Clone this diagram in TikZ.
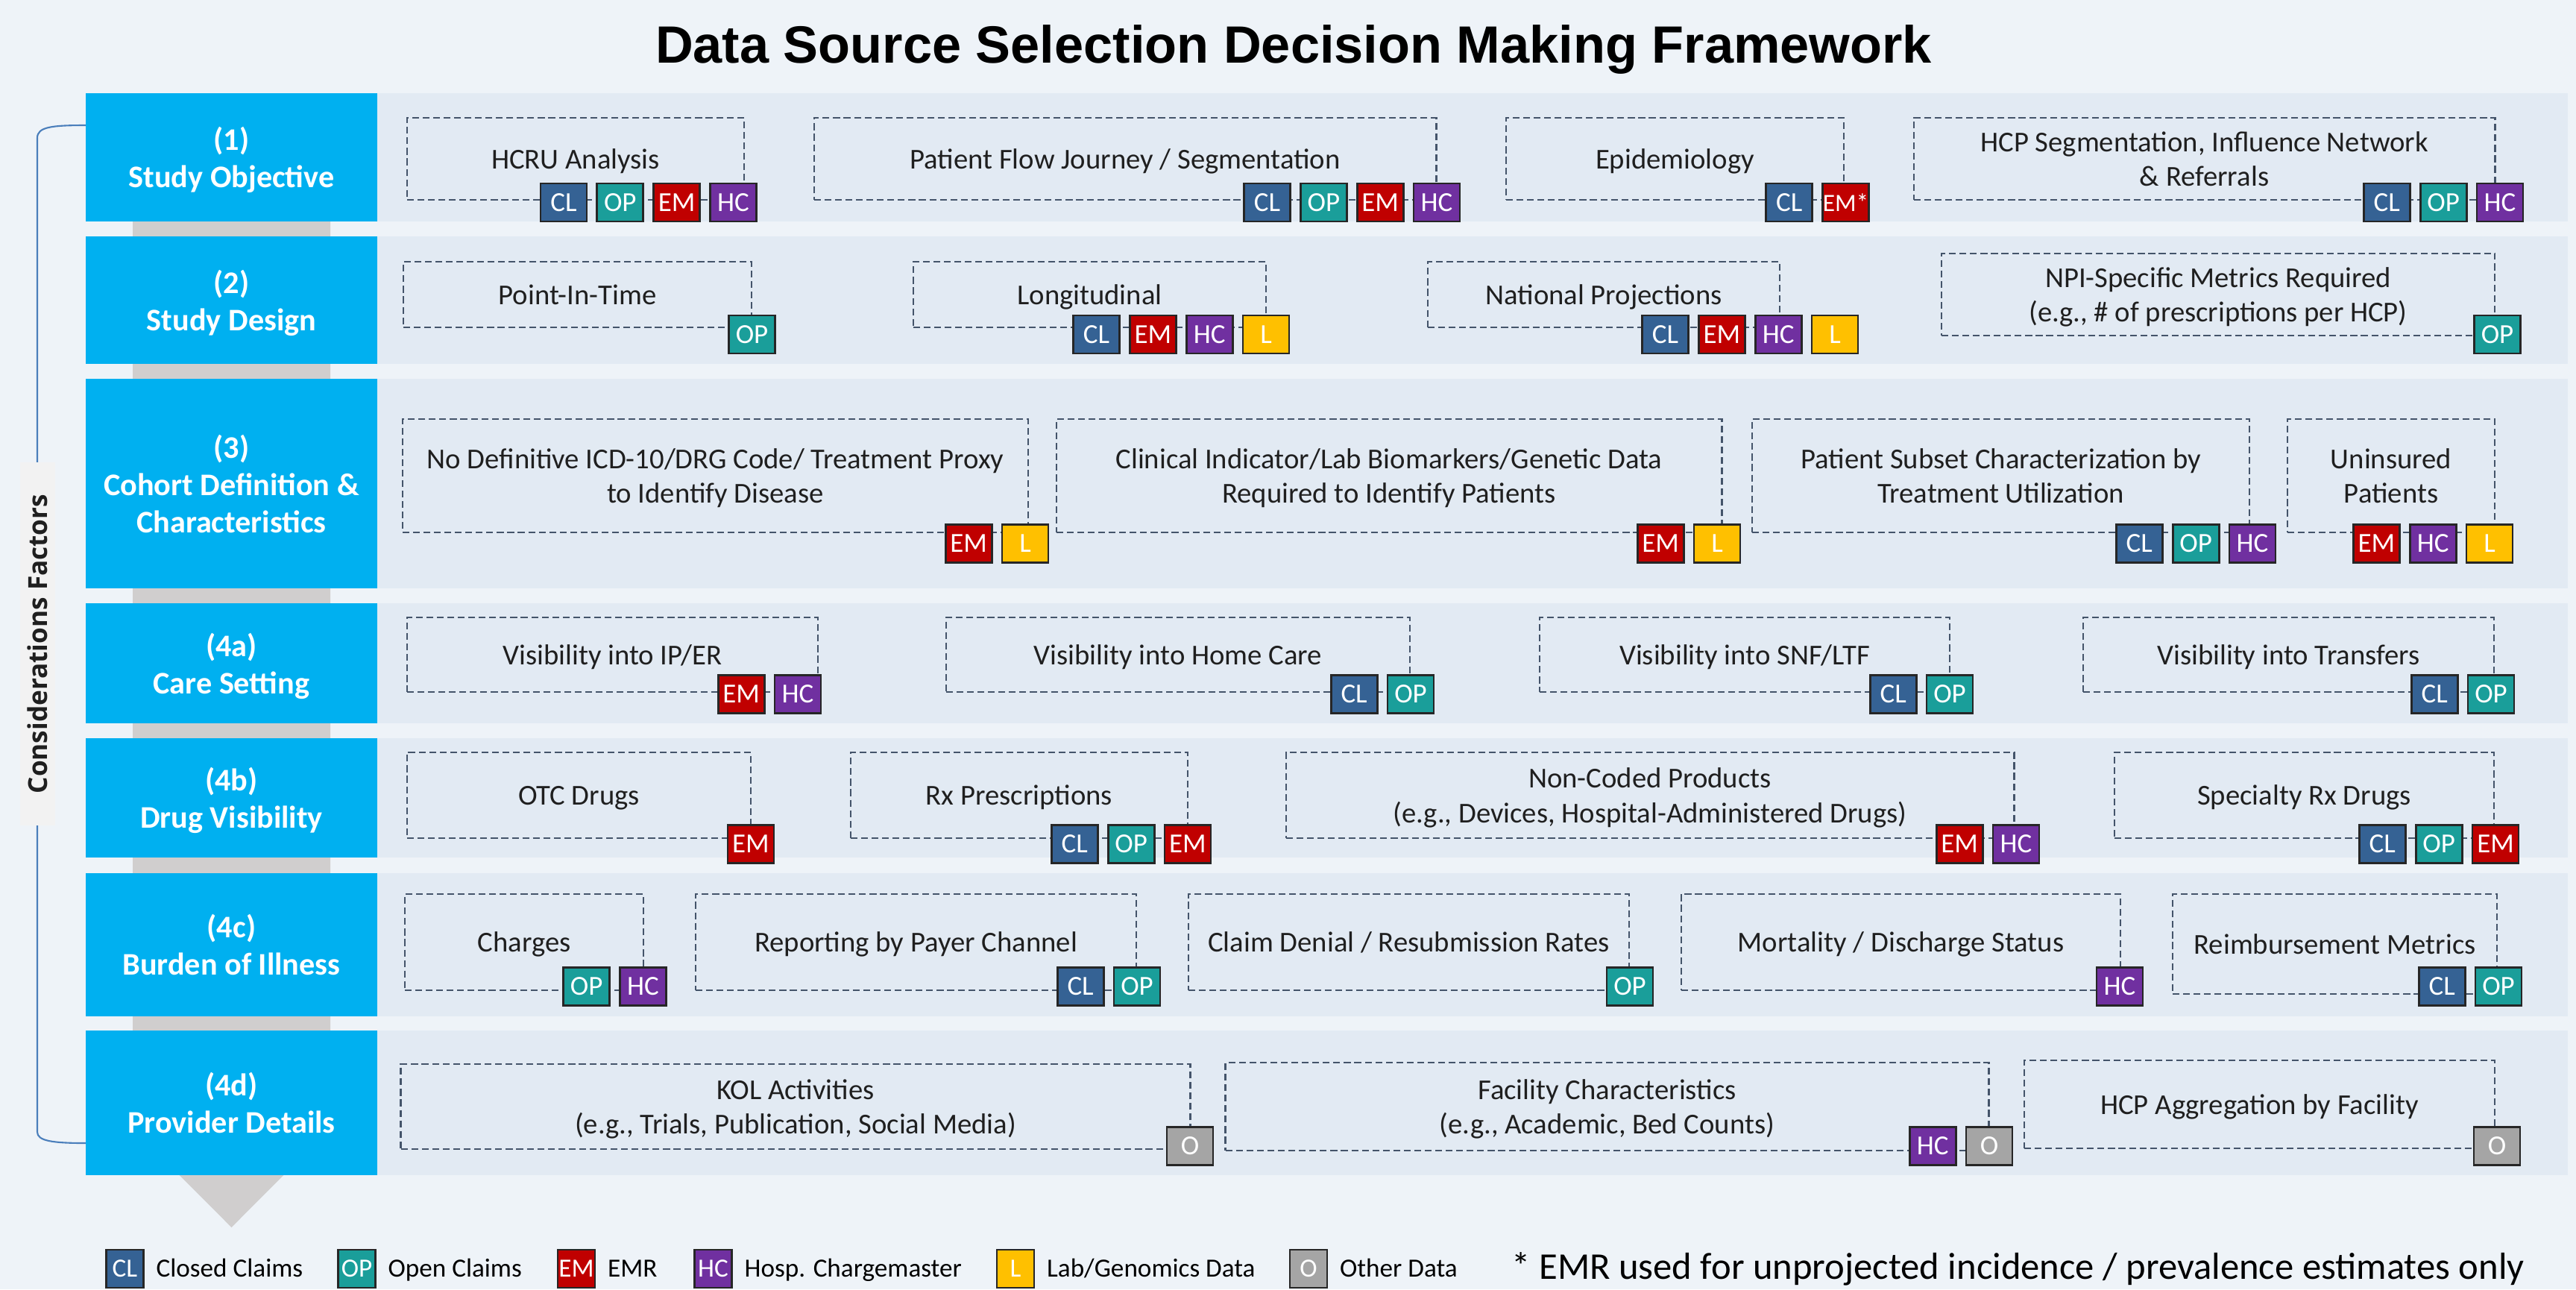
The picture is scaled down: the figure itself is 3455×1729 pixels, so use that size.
\documentclass[tikz,border=0pt]{standalone}
\usepackage{fontspec}
\setmainfont{Carlito}
\newfontfamily\titlefont{Liberation Sans}
\newfontfamily\sidefont{Open Sans}
\usetikzlibrary{positioning}

\definecolor{pagebg}{HTML}{EEF3F8}
\definecolor{bandbg}{HTML}{E2EAF3}
\definecolor{stageblue}{HTML}{00B0F0}
\definecolor{arrowgray}{HTML}{D0CECE}
\definecolor{dashgray}{HTML}{44546A}
\definecolor{sidegray}{HTML}{F2F2F2}
\definecolor{bracketblue}{HTML}{4A7EBB}
\definecolor{clblue}{HTML}{356294}
\definecolor{opteal}{HTML}{1A9E9A}
\definecolor{emred}{HTML}{C00000}
\definecolor{hcpurple}{HTML}{7030A0}
\definecolor{labyellow}{HTML}{FFC000}
\definecolor{othergray}{HTML}{A5A5A5}

\tikzset{
  stage/.style={fill=stageblue, text=white, inner sep=0, minimum width=3.91cm,
    align=center, text depth=0pt, font=\bfseries\fontsize{12}{14.2}\selectfont},
  factor/.style={draw=dashgray, line width=0.7pt, dash pattern=on 2.6pt off 1.4pt,
    inner sep=0, align=center, text depth=0pt, text=black!88,
    font=\fontsize{11}{13.3}\selectfont},
  src/.style={draw=black!85, line width=0.8pt, inner sep=0, text=white,
    minimum width=0.62cm, minimum height=0.51cm, font=\fontsize{10.5}{12}\selectfont},
  srcCL/.style={src, fill=clblue},
  srcOP/.style={src, fill=opteal},
  srcEM/.style={src, fill=emred},
  srcHC/.style={src, fill=hcpurple},
  srcL/.style={src, fill=labyellow},
  srcO/.style={src, fill=othergray},
  legsrc/.style={minimum width=0.50cm, font=\fontsize{10}{12}\selectfont},
  legtext/.style={inner sep=0, text height=1.55ex, text depth=0.3ex,
    font=\fontsize{10}{12}\selectfont}
}

\begin{document}
\begin{tikzpicture}[x=0.01cm, y=-0.01cm]
  \useasboundingbox (0,0) rectangle (3455,1729);
  \fill[pagebg] (0,0) rectangle (3455,1729);

  \node[font=\titlefont\bfseries\fontsize{20}{24}\selectfont, anchor=base] (title)
    at (1735,84) {Data Source Selection Decision Making Framework};

  \fill[arrowgray] (178,125) -- (443,125) -- (443,1513) -- (310.5,1646) -- (178,1513) -- cycle;

  \fill[bandbg] (506,125) rectangle (3444,297);
  \fill[bandbg] (506,317) rectangle (3444,488);
  \fill[bandbg] (506,508) rectangle (3444,789);
  \fill[bandbg] (506,809) rectangle (3444,970);
  \fill[bandbg] (506,990) rectangle (3444,1150);
  \fill[bandbg] (506,1171) rectangle (3444,1363);
  \fill[bandbg] (506,1382) rectangle (3444,1576);

  \coordinate (brtop) at (115,168);
  \coordinate (brbot) at (115,1533);
  \draw[bracketblue, line width=0.6pt] (brtop) .. controls (70,168) and (50,170) .. (50,185)
    -- (50,1518) .. controls (50,1530) and (70,1533) .. (brbot);
  \node[fill=sidegray, rotate=90, minimum width=4.87cm, minimum height=0.47cm, inner sep=0,
    text=black!88, font=\sidefont\bfseries\fontsize{10}{12}\selectfont] (side)
    at (50.5,863.5) {Considerations Factors};

  \node[stage, minimum height=1.72cm] (s1) at (310.5,211) {(1)\\Study Objective};
  \node[stage, minimum height=1.71cm] (s2) at (310.5,402.5) {(2)\\Study Design};
  \node[stage, minimum height=2.81cm] (s3) at (310.5,648.5) {(3)\\Cohort Definition \&\\Characteristics};
  \node[stage, minimum height=1.61cm] (s4a) at (310.5,889.5) {(4a)\\Care Setting};
  \node[stage, minimum height=1.60cm] (s4b) at (310.5,1070) {(4b)\\Drug Visibility};
  \node[stage, minimum height=1.92cm] (s4c) at (310.5,1267) {(4c)\\Burden of Illness};
  \node[stage, minimum height=1.94cm] (s4d) at (310.5,1479) {(4d)\\Provider Details};

  % (1) study objective
  \node[factor, minimum width=4.52cm, minimum height=1.10cm] (hcru) at (772,213) {HCRU Analysis};
  \node[factor, minimum width=8.34cm, minimum height=1.10cm] (flow) at (1509,213) {Patient Flow Journey / Segmentation};
  \node[factor, minimum width=4.53cm, minimum height=1.10cm] (epi) at (2246.5,213) {Epidemiology};
  \node[factor, minimum width=7.79cm, minimum height=1.10cm] (hcpseg) at (2956.5,213) {HCP Segmentation, Influence Network\\\& Referrals};

  \node[srcHC] (hcru-hc) at (983.5,271.5) {HC};
  \node[srcEM, left=0.11cm of hcru-hc] (hcru-em) {EM};
  \node[srcOP, left=0.11cm of hcru-em] (hcru-op) {OP};
  \node[srcCL, left=0.11cm of hcru-op] (hcru-cl) {CL};
  \node[srcHC] (flow-hc) at (1927,271.5) {HC};
  \node[srcEM, left=0.11cm of flow-hc] (flow-em) {EM};
  \node[srcOP, left=0.11cm of flow-em] (flow-op) {OP};
  \node[srcCL, left=0.11cm of flow-op] (flow-cl) {CL};
  \node[srcEM, font=\fontsize{9.5}{11}\selectfont] (epi-em) at (2475.5,271.5) {EM*};
  \node[srcCL, left=0.11cm of epi-em] (epi-cl) {CL};
  \node[srcHC] (hcpseg-hc) at (3353,271.5) {HC};
  \node[srcOP, left=0.11cm of hcpseg-hc] (hcpseg-op) {OP};
  \node[srcCL, left=0.11cm of hcpseg-op] (hcpseg-cl) {CL};

  % (2) study design
  \node[factor, minimum width=4.67cm, minimum height=0.88cm] (pit) at (774.5,395) {Point-In-Time};
  \node[factor, minimum width=4.73cm, minimum height=0.88cm] (longi) at (1461.5,395) {Longitudinal};
  \node[factor, minimum width=4.72cm, minimum height=0.88cm] (natproj) at (2151,395) {National Projections};
  \node[factor, minimum width=7.42cm, minimum height=1.10cm] (npi) at (2975,395) {NPI-Specific Metrics Required\\(e.g., \# of prescriptions per HCP)};

  \node[srcOP] (pit-op) at (1008.5,448.5) {OP};
  \node[srcL] (longi-l) at (1698,448.5) {L};
  \node[srcHC, left=0.11cm of longi-l] (longi-hc) {HC};
  \node[srcEM, left=0.11cm of longi-hc] (longi-em) {EM};
  \node[srcCL, left=0.11cm of longi-em] (longi-cl) {CL};
  \node[srcL] (natproj-l) at (2461,448.5) {L};
  \node[srcHC, left=0.11cm of natproj-l] (natproj-hc) {HC};
  \node[srcEM, left=0.11cm of natproj-hc] (natproj-em) {EM};
  \node[srcCL, left=0.11cm of natproj-em] (natproj-cl) {CL};
  \node[srcOP] (npi-op) at (3349.5,448.5) {OP};

  % (3) cohort definition
  \node[factor, minimum width=8.39cm, minimum height=1.52cm] (nodef) at (959.5,638) {No Definitive ICD-10/DRG Code/ Treatment Proxy\\to Identify Disease};
  \node[factor, minimum width=8.92cm, minimum height=1.52cm] (clin) at (1863,638) {Clinical Indicator/Lab Biomarkers/Genetic Data\\Required to Identify Patients};
  \node[factor, minimum width=6.67cm, minimum height=1.52cm] (subset) at (2683.5,638) {Patient Subset Characterization by\\Treatment Utilization};
  \node[factor, minimum width=2.78cm, minimum height=1.52cm] (unins) at (3207,638) {Uninsured\\Patients};

  \node[srcL] (nodef-l) at (1375,729) {L};
  \node[srcEM, left=0.11cm of nodef-l] (nodef-em) {EM};
  \node[srcL] (clin-l) at (2303,729) {L};
  \node[srcEM, left=0.11cm of clin-l] (clin-em) {EM};
  \node[srcHC] (subset-hc) at (3021,729) {HC};
  \node[srcOP, left=0.11cm of subset-hc] (subset-op) {OP};
  \node[srcCL, left=0.11cm of subset-op] (subset-cl) {CL};
  \node[srcL] (unins-l) at (3339,729) {L};
  \node[srcHC, left=0.11cm of unins-l] (unins-hc) {HC};
  \node[srcEM, left=0.11cm of unins-hc] (unins-em) {EM};

  % (4a) care setting
  \node[factor, minimum width=5.51cm, minimum height=1.00cm] (iper) at (821.5,878) {Visibility into IP/ER};
  \node[factor, minimum width=6.22cm, minimum height=1.00cm] (home) at (1580,878) {Visibility into Home Care};
  \node[factor, minimum width=5.50cm, minimum height=1.00cm] (snf) at (2340,878) {Visibility into SNF/LTF};
  \node[factor, minimum width=5.51cm, minimum height=1.00cm] (transfer) at (3069.5,878) {Visibility into Transfers};

  \node[srcHC] (iper-hc) at (1070,931) {HC};
  \node[srcEM, left=0.11cm of iper-hc] (iper-em) {EM};
  \node[srcOP] (home-op) at (1892,931) {OP};
  \node[srcCL, left=0.11cm of home-op] (home-cl) {CL};
  \node[srcOP] (snf-op) at (2615,931) {OP};
  \node[srcCL, left=0.11cm of snf-op] (snf-cl) {CL};
  \node[srcOP] (transfer-op) at (3341,931) {OP};
  \node[srcCL, left=0.11cm of transfer-op] (transfer-cl) {CL};

  % (4b) drug visibility
  \node[factor, minimum width=4.61cm, minimum height=1.15cm] (otc) at (776.5,1066.5) {OTC Drugs};
  \node[factor, minimum width=4.52cm, minimum height=1.15cm] (rx) at (1367,1066.5) {Rx Prescriptions};
  \node[factor, minimum width=9.76cm, minimum height=1.15cm] (noncoded) at (2213,1066.5) {Non-Coded Products\\(e.g., Devices, Hospital-Administered Drugs)};
  \node[factor, minimum width=5.09cm, minimum height=1.15cm] (specrx) at (3090.5,1066.5) {Specialty Rx Drugs};

  \node[srcEM] (otc-em) at (1007,1132) {EM};
  \node[srcEM] (rx-em) at (1593,1132) {EM};
  \node[srcOP, left=0.11cm of rx-em] (rx-op) {OP};
  \node[srcCL, left=0.11cm of rx-op] (rx-cl) {CL};
  \node[srcHC] (noncoded-hc) at (2704,1132) {HC};
  \node[srcEM, left=0.11cm of noncoded-hc] (noncoded-em) {EM};
  \node[srcEM] (specrx-em) at (3347,1132) {EM};
  \node[srcOP, left=0.11cm of specrx-em] (specrx-op) {OP};
  \node[srcCL, left=0.11cm of specrx-op] (specrx-cl) {CL};

  % (4c) burden of illness
  \node[factor, minimum width=3.20cm, minimum height=1.29cm] (charges) at (703,1263.5) {Charges};
  \node[factor, minimum width=5.91cm, minimum height=1.29cm] (payer) at (1228.5,1263.5) {Reporting by Payer Channel};
  \node[factor, minimum width=5.91cm, minimum height=1.29cm] (denial) at (1889.5,1263.5) {Claim Denial / Resubmission Rates};
  \node[factor, minimum width=5.89cm, minimum height=1.29cm] (mortality) at (2549.5,1263.5) {Mortality / Discharge Status};
  \node[factor, minimum width=4.35cm, minimum height=1.34cm] (reimb) at (3131.5,1266) {Reimbursement Metrics};

  \node[srcHC] (charges-hc) at (862.5,1323) {HC};
  \node[srcOP, left=0.11cm of charges-hc] (charges-op) {OP};
  \node[srcOP] (payer-op) at (1525,1323) {OP};
  \node[srcCL, left=0.11cm of payer-op] (payer-cl) {CL};
  \node[srcOP] (denial-op) at (2186,1323) {OP};
  \node[srcHC] (mortality-hc) at (2843,1323) {HC};
  \node[srcOP] (reimb-op) at (3351,1323) {OP};
  \node[srcCL, left=0.11cm of reimb-op] (reimb-cl) {CL};

  % (4d) provider details
  \node[factor, minimum width=10.58cm, minimum height=1.14cm] (kol) at (1067,1484) {KOL Activities\\(e.g., Trials, Publication, Social Media)};
  \node[factor, minimum width=10.23cm, minimum height=1.18cm] (facility) at (2155.5,1484) {Facility Characteristics\\(e.g., Academic, Bed Counts)};
  \node[factor, minimum width=6.31cm, minimum height=1.18cm] (hcpagg) at (3030.5,1481) {HCP Aggregation by Facility};

  \node[srcO] (kol-o) at (1596,1537) {O};
  \node[srcO] (facility-o) at (2668,1537) {O};
  \node[srcHC, left=0.11cm of facility-o] (facility-hc) {HC};
  \node[srcO] (hcpagg-o) at (3349,1537) {O};

  % legend
  \node[srcCL, legsrc] (legCL) at (167.5,1701.5) {CL};
  \node[legtext, right=0.15cm of legCL] (legCLt) {Closed Claims};
  \node[srcOP, legsrc] (legOP) at (478.5,1701.5) {OP};
  \node[legtext, right=0.15cm of legOP] (legOPt) {Open Claims};
  \node[srcEM, legsrc] (legEM) at (773,1701.5) {EM};
  \node[legtext, right=0.15cm of legEM] (legEMt) {EMR};
  \node[srcHC, legsrc] (legHC) at (956.5,1701.5) {HC};
  \node[legtext, right=0.15cm of legHC] (legHCt) {Hosp. Chargemaster};
  \node[srcL, legsrc] (legL) at (1362,1701.5) {L};
  \node[legtext, right=0.15cm of legL] (legLt) {Lab/Genomics Data};
  \node[srcO, legsrc] (legO) at (1755,1701.5) {O};
  \node[legtext, right=0.15cm of legO] (legOt) {Other Data};

  \node[anchor=base west, inner sep=0, font=\fontsize{14.4}{16}\selectfont] (note)
    at (2027,1715) {* EMR used for unprojected incidence / prevalence estimates only};
\end{tikzpicture}
\end{document}
